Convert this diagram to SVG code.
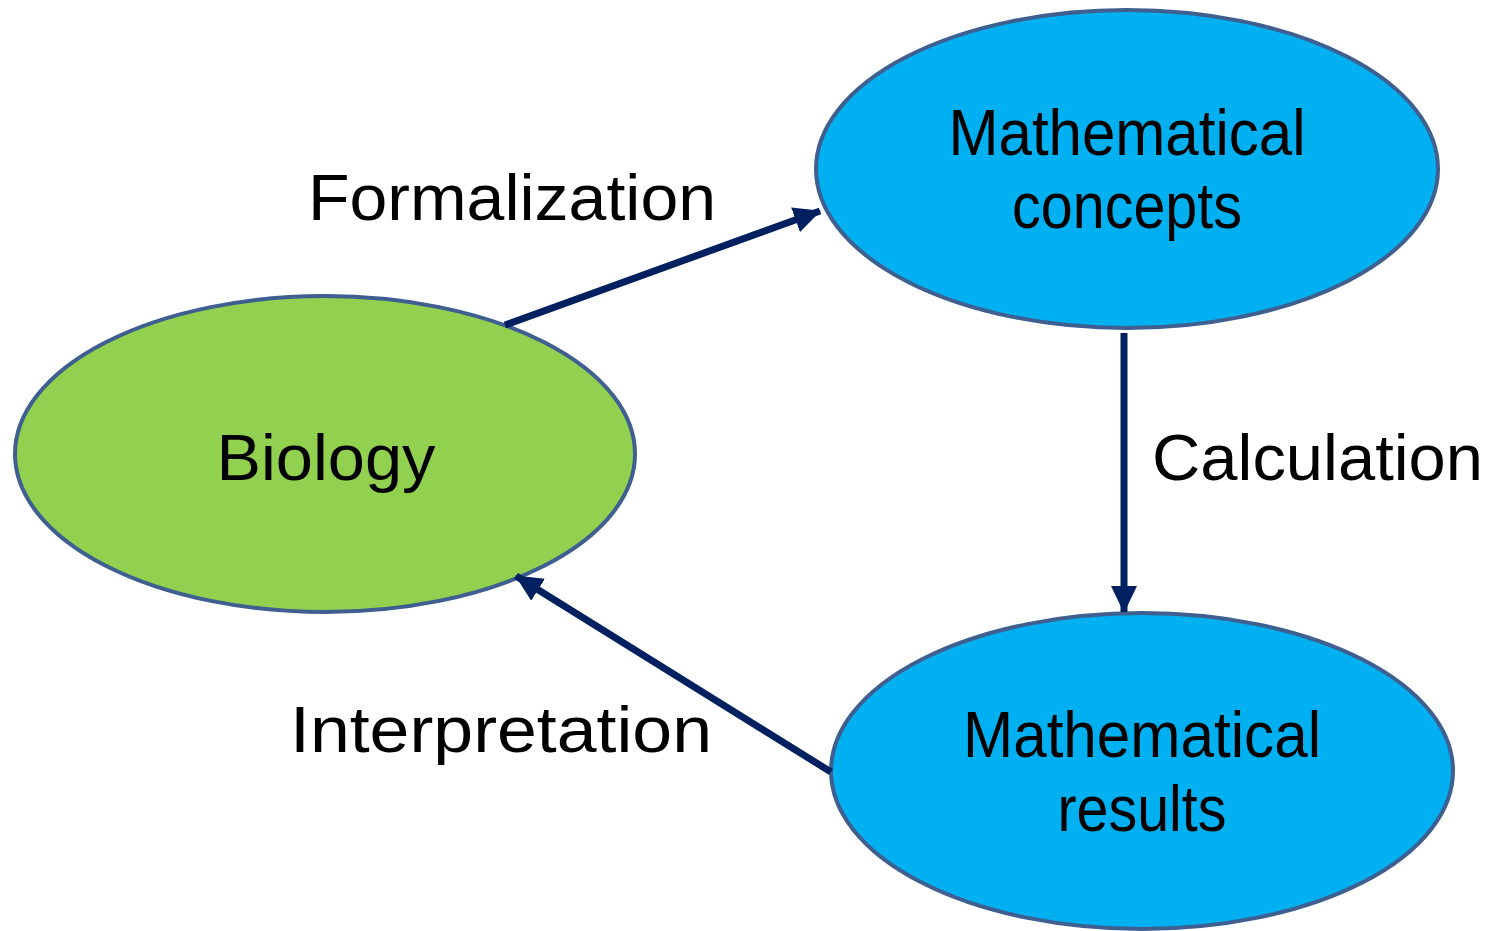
<svg xmlns="http://www.w3.org/2000/svg" width="1493" height="931" viewBox="0 0 1493 931">
<style>
.node{stroke:#3E5F8F;stroke-width:4}
.green{fill:#92D050}
.blue{fill:#00B0F0}
.lbl{font-family:"Liberation Sans",Arial,sans-serif;font-size:64px;fill:#000}
.conn{stroke:#002060;stroke-width:7;fill:none;marker-end:url(#ah)}
</style>
<defs>
<marker id="ah" markerUnits="userSpaceOnUse" markerWidth="30" markerHeight="26" refX="26" refY="13" orient="auto">
<path d="M0,0 L27,13 L0,26 Z" fill="#002060"/>
</marker>
</defs>
<g id="biology">
<ellipse class="node green" cx="325" cy="454" rx="310" ry="158"/>
<text class="lbl" x="326" y="480" text-anchor="middle" textLength="219" lengthAdjust="spacingAndGlyphs">Biology</text>
</g>
<g id="math-concepts">
<ellipse class="node blue" cx="1127" cy="169" rx="311" ry="159"/>
<text class="lbl" x="1127" y="155" text-anchor="middle" textLength="357" lengthAdjust="spacingAndGlyphs">Mathematical</text>
<text class="lbl" x="1127" y="228" text-anchor="middle" textLength="230" lengthAdjust="spacingAndGlyphs">concepts</text>
</g>
<g id="math-results">
<ellipse class="node blue" cx="1142" cy="771" rx="311" ry="158"/>
<text class="lbl" x="1142" y="757" text-anchor="middle" textLength="358" lengthAdjust="spacingAndGlyphs">Mathematical</text>
<text class="lbl" x="1142" y="831" text-anchor="middle" textLength="169" lengthAdjust="spacingAndGlyphs">results</text>
</g>
<g id="connectors">
<line class="conn" x1="505" y1="325" x2="820" y2="211"/>
<line class="conn" x1="1124" y1="333" x2="1124" y2="612"/>
<line class="conn" x1="831" y1="772" x2="516" y2="576"/>
</g>
<g id="labels">
<text class="lbl" x="308" y="220" textLength="408" lengthAdjust="spacingAndGlyphs">Formalization</text>
<text class="lbl" x="1152" y="480" textLength="331" lengthAdjust="spacingAndGlyphs">Calculation</text>
<text class="lbl" x="290" y="752" textLength="422" lengthAdjust="spacingAndGlyphs">Interpretation</text>
</g>
</svg>
